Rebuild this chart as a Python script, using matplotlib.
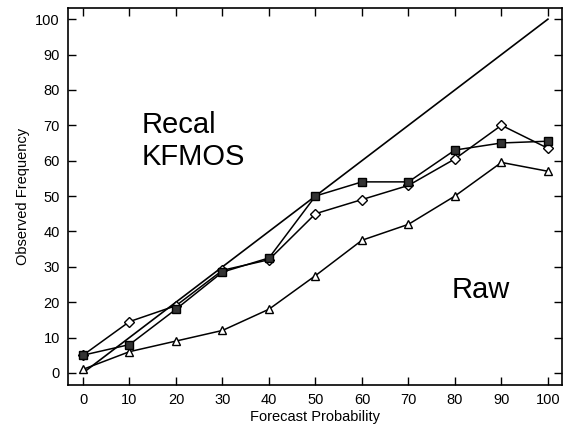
import matplotlib
matplotlib.use("Agg")
import matplotlib.pyplot as plt

prob = [0, 10, 20, 30, 40, 50, 60, 70, 80, 90, 100]
square_vals = [5, 8, 18, 28.5, 32.5, 50, 54, 54, 63, 65, 65.5]
diamond_vals = [5, 14.5, 19, 29, 32, 45, 49, 53, 60.5, 70, 63.5]
triangle_vals = [1, 6, 9, 12, 18, 27.5, 37.5, 42, 50, 59.5, 57]
perfect = [0, 100]
ticks = list(range(0, 101, 10))

plt.rcParams['font.family'] = ['Liberation Sans', 'DejaVu Sans']

fig = plt.figure(figsize=(5.63, 4.32), dpi=100)
ax = fig.add_axes([0.121, 0.109, 0.877, 0.872])

ax.plot(perfect, perfect, color='black', lw=1.2)
ax.plot(prob, triangle_vals, color='black', lw=1.1, marker='^', ms=6,
        mfc='white', mec='black', mew=1.0)
ax.plot(prob, diamond_vals, color='black', lw=1.1, marker='D', ms=5,
        mfc='white', mec='black', mew=1.0)
ax.plot(prob, square_vals, color='black', lw=1.1, marker='s', ms=6,
        mfc='#333333', mec='black', mew=1.0)

ax.set_xlim(-3.2, 103)
ax.set_ylim(-3.4, 103.1)
ax.set_xticks(ticks)
ax.set_yticks(ticks)
ax.tick_params(direction='in', top=True, right=True, length=6, width=1,
               labelsize=10.5, pad=6)
for s in ax.spines.values():
    s.set_linewidth(1.2)

ax.set_xlabel('Forecast Probability', fontsize=10.5, labelpad=2)
ax.set_ylabel('Observed Frequency', fontsize=10.5, labelpad=4)

ax.text(12.7, 65.5, 'Recal\nKFMOS', fontsize=21, ha='left', va='center',
        linespacing=1.2)
ax.text(79.3, 23.4, 'Raw', fontsize=21, ha='left', va='center')

fig.savefig('out.png', dpi=100)
